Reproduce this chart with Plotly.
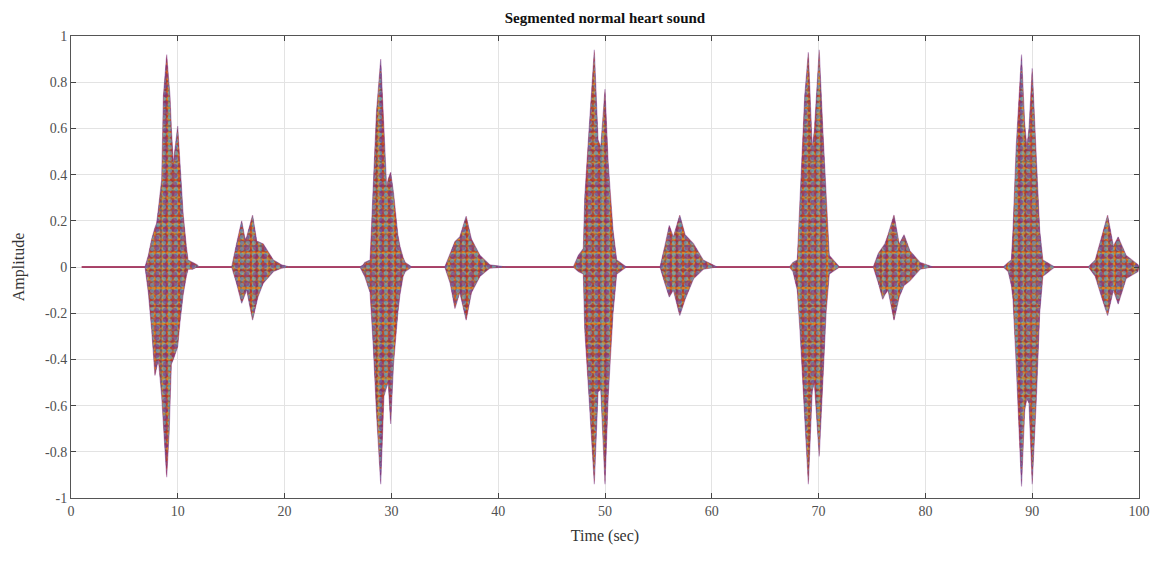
"""Segmented normal heart sound: envelope of the segmented PCG record."""

import plotly.graph_objects as go

# envelope of the record (time in sec, amplitude)
sig_time = [
    1.0, 6.93, 7.24, 7.4, 7.55, 7.86, 8.02, 8.18, 8.49, 8.65, 8.8, 8.96, 9.2, 9.27, 9.4, 9.58,
    9.99, 10.2, 10.5, 10.8, 10.96, 11.4, 11.8, 12.0,
    15.04, 15.5, 15.98, 16.3, 16.45, 17.0, 17.4, 17.5, 18.0, 18.95, 19.7, 20.5,
    27.06, 27.37, 27.5, 28.0, 28.3, 28.6, 29.0, 29.3, 29.55, 29.7, 29.93, 30.2, 30.3, 30.6,
    30.8, 31.1, 31.3, 31.9,
    35.0, 35.5, 35.95, 36.4, 37.0, 37.5, 38.3, 39.2, 40.8,
    47.03, 47.5, 47.97, 48.1, 48.5, 49.0, 49.35, 49.6, 50.0, 50.3, 50.75, 51.1, 52.0,
    55.15, 55.6, 56.02, 56.4, 57.0, 57.5, 58.3, 59.2, 60.5,
    67.26, 67.6, 68.0, 68.25, 68.7, 69.04, 69.4, 69.6, 70.06, 70.4, 70.7, 71.0, 71.96,
    75.12, 75.6, 76.0, 76.2, 76.5, 77.06, 77.55, 78.0, 78.55, 79.5, 80.7,
    87.3, 87.75, 88.05, 88.2, 88.5, 89.0, 89.3, 89.5, 89.7, 90.0, 90.4, 90.7, 91.0, 92.1,
    95.25, 95.9, 96.5, 97.06, 97.6, 98.05, 98.8, 99.9, 100.0,
]
sig_upper = [
    0, 0, 0.05, 0.09, 0.12, 0.17, 0.19, 0.25, 0.38, 0.74, 0.82, 0.92, 0.78, 0.74, 0.60, 0.45,
    0.61, 0.45, 0.23, 0.09, 0.03, 0.02, 0.01, 0,
    0, 0.10, 0.20, 0.12, 0.13, 0.225, 0.11, 0.11, 0.10, 0.03, 0.01, 0,
    0, 0.01, 0.02, 0.03, 0.38, 0.67, 0.90, 0.59, 0.35, 0.38, 0.41, 0.32, 0.28, 0.14,
    0.09, 0.04, 0.02, 0,
    0, 0.06, 0.11, 0.13, 0.22, 0.12, 0.05, 0.01, 0,
    0, 0.05, 0.08, 0.30, 0.59, 0.94, 0.55, 0.52, 0.77, 0.45, 0.16, 0.03, 0,
    0, 0.09, 0.18, 0.13, 0.225, 0.14, 0.10, 0.03, 0,
    0, 0.02, 0.03, 0.30, 0.74, 0.93, 0.52, 0.59, 0.94, 0.59, 0.30, 0.05, 0,
    0, 0.06, 0.09, 0.10, 0.14, 0.225, 0.10, 0.14, 0.07, 0.02, 0,
    0, 0.02, 0.03, 0.16, 0.52, 0.92, 0.62, 0.52, 0.60, 0.86, 0.45, 0.16, 0.03, 0,
    0, 0.03, 0.13, 0.225, 0.09, 0.13, 0.05, 0.01, 0,
]
sig_lower = [
    0, 0, -0.11, -0.17, -0.27, -0.47, -0.43, -0.40, -0.56, -0.68, -0.78, -0.91, -0.71, -0.60, -0.42, -0.40,
    -0.345, -0.24, -0.12, -0.04, -0.01, -0.01, 0, 0,
    0, -0.07, -0.157, -0.12, -0.10, -0.23, -0.15, -0.13, -0.07, -0.02, -0.005, 0,
    0, -0.03, -0.04, -0.11, -0.34, -0.63, -0.94, -0.56, -0.52, -0.50, -0.68, -0.42, -0.35, -0.20,
    -0.12, -0.04, -0.02, 0,
    0, -0.07, -0.18, -0.11, -0.23, -0.11, -0.04, -0.005, 0,
    0, -0.02, -0.03, -0.27, -0.56, -0.94, -0.54, -0.53, -0.94, -0.56, -0.20, -0.03, 0,
    0, -0.07, -0.13, -0.10, -0.21, -0.14, -0.05, -0.01, 0,
    0, -0.02, -0.10, -0.27, -0.63, -0.94, -0.54, -0.50, -0.82, -0.49, -0.20, -0.03, 0,
    0, -0.07, -0.14, -0.12, -0.10, -0.23, -0.13, -0.08, -0.06, -0.01, 0,
    0, -0.02, -0.08, -0.14, -0.42, -0.95, -0.62, -0.57, -0.59, -0.94, -0.56, -0.20, -0.04, 0,
    0, -0.04, -0.13, -0.21, -0.10, -0.16, -0.05, -0.02, 0,
]

x_ticks = [0, 10, 20, 30, 40, 50, 60, 70, 80, 90, 100]
y_ticks = [-1, -0.8, -0.6, -0.4, -0.2, 0, 0.2, 0.4, 0.6, 0.8, 1]
y_tick_labels = ["-1", "-0.8", "-0.6", "-0.4", "-0.2", "0", "0.2", "0.4", "0.6", "0.8", "1"]

# matlab default colour order
MATLAB_COLORS = ["#0072BD", "#D95319", "#EDB120", "#7E2F8E", "#77AC30", "#4DBEEE", "#A2142F"]

# closed outline: upper envelope forward, lower envelope back
poly_x = sig_time + sig_time[::-1]
poly_y = sig_upper + sig_lower[::-1]

# dot patterns with different cell sizes overlap into an irregular speckle,
# close to the look of many overplotted coloured lines
CLEAR = "rgba(0,0,0,0)"
layers = [
    dict(fillcolor=MATLAB_COLORS[1], fg=MATLAB_COLORS[0], size=4, solidity=0.55),
    dict(fillcolor=CLEAR, fg=MATLAB_COLORS[2], size=5, solidity=0.55),
    dict(fillcolor=CLEAR, fg=MATLAB_COLORS[6], size=7, solidity=0.4),
    dict(fillcolor=CLEAR, fg=MATLAB_COLORS[5], size=6, solidity=0.4),
    dict(fillcolor=CLEAR, fg=MATLAB_COLORS[3], size=9, solidity=0.3),
]

fig = go.Figure()

# flat baseline sits under the bursts
fig.add_trace(
    go.Scatter(x=[sig_time[0], sig_time[-1]], y=[0, 0], mode="lines",
               line=dict(color=MATLAB_COLORS[6], width=1.6), hoverinfo="skip", showlegend=False)
)

for lay in layers:
    fig.add_trace(
        go.Scatter(
            x=poly_x,
            y=poly_y,
            mode="lines",
            line=dict(width=0),
            fill="toself",
            fillcolor=lay["fillcolor"],
            fillpattern=dict(
                shape=".",
                fgcolor=lay["fg"],
                size=lay["size"],
                solidity=lay["solidity"],
                fillmode="overlay",
            ),
            hoverinfo="skip",
            showlegend=False,
        )
    )

# soft edge, gives the bursts a slightly ragged outline
fig.add_trace(
    go.Scatter(x=poly_x, y=poly_y, mode="lines", line=dict(color="rgba(126,47,142,0.45)", width=1.1),
               hoverinfo="skip", showlegend=False)
)

axis_font = dict(family="Liberation Serif", size=14, color="#505050")
label_font = dict(family="Liberation Serif", size=16, color="#333333")

fig.update_layout(
    width=1153,
    height=561,
    margin=dict(l=71, r=14, t=36, b=63),
    paper_bgcolor="white",
    plot_bgcolor="white",
    font=dict(family="Liberation Serif", color="#262626"),
    title=dict(
        text="<b>Segmented normal heart sound</b>",
        x=0.5,
        xref="paper",
        y=1 - 18 / 561,
        yref="container",
        yanchor="middle",
        font=dict(family="Liberation Serif", size=15, color="#111111"),
    ),
    xaxis=dict(
        range=[0, 100],
        tickvals=x_ticks,
        ticks="inside",
        ticklen=5,
        tickcolor="#444444",
        showline=True,
        linecolor="#555555",
        linewidth=1,
        mirror="ticks",
        showgrid=True,
        gridcolor="#e3e3e3",
        zeroline=False,
        tickfont=axis_font,
        automargin=False,
        title=dict(text="Time (sec)", font=label_font, standoff=12),
    ),
    yaxis=dict(
        range=[-1, 1],
        tickvals=y_ticks,
        ticktext=y_tick_labels,
        ticks="inside",
        ticklen=5,
        tickcolor="#444444",
        showline=True,
        linecolor="#555555",
        linewidth=1,
        mirror="ticks",
        showgrid=True,
        gridcolor="#e3e3e3",
        zeroline=False,
        tickfont=axis_font,
        automargin=False,
        title=dict(text="Amplitude", font=label_font, standoff=16),
    ),
)

# drop the default page margin so the figure fills the window exactly
fig.write_html(
    "out.html",
    config={"displayModeBar": False},
    post_script="document.body.style.margin='0';document.body.style.overflow='hidden';",
)
